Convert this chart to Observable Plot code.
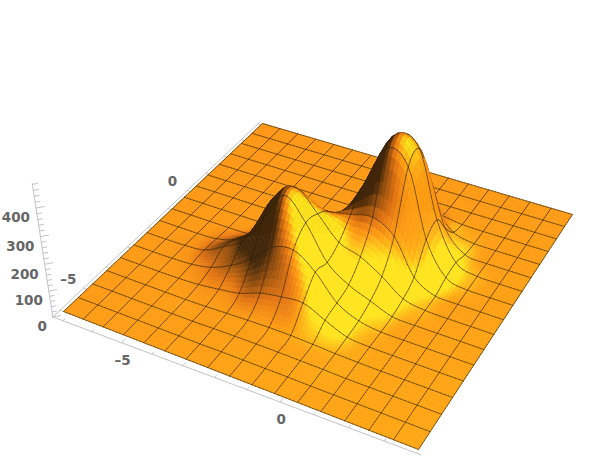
<!DOCTYPE html>
<html><head><meta charset="utf-8">
<style>html,body{margin:0;padding:0;background:#fff}</style>
<script src="https://cdn.jsdelivr.net/npm/d3@7"></script>
<script src="https://cdn.jsdelivr.net/npm/@observablehq/plot@0.6"></script>
</head><body><div id="chart"></div>
<script>
// surface height at each mesh node (row = y line, column = x line)
const heights = [
[0,0,0,0,0,0,0,0,0,0,0,0,0,0,0,0,0],
[0,0,0,0,0,0,0,1,1,1,1,0,0,0,0,0,0],
[0,0,0,0,0,0,2,3,4,4,3,2,0,0,0,0,0],
[0,0,0,0,0,2,5,8,10,10,7,3,1,0,0,0,0],
[0,0,0,1,5,15,28,57,72,78,42,8,1,0,0,0,0],
[0,0,1,5,20,55,105,178,195,140,53,14,1,0,0,0,0],
[0,0,2,10,50,100,205,320,245,125,68,35,4,0,0,0,0],
[0,0,0,5,30,95,240,300,230,150,122,75,18,2,0,0,0],
[0,0,0,0,3,30,90,180,190,205,220,175,48,3,0,0,0],
[0,0,0,0,0,5,15,40,100,260,420,380,140,22,1,0,0],
[0,0,0,0,0,0,0,8,30,180,415,400,165,28,2,0,0],
[0,0,0,0,0,0,0,0,8,60,250,270,85,8,0,0,0],
[0,0,0,0,0,0,0,0,0,15,70,85,20,1,0,0,0],
[0,0,0,0,0,0,0,0,0,0,10,12,2,0,0,0,0],
[0,0,0,0,0,0,0,0,0,0,0,0,0,0,0,0,0],
[0,0,0,0,0,0,0,0,0,0,0,0,0,0,0,0,0],
[0,0,0,0,0,0,0,0,0,0,0,0,0,0,0,0,0]
];
const xTicks = [-7,-6,-5,-4,-3,-2,-1,0,1,2,3];
const yTicks = [-6,-5,-4,-3,-2,-1,0,1,2,3,4];
const zTicks = [0,20,40,60,80,100,120,140,160,180,200,220,240,260,280,300,320,340,360,380,400,420,440,460,480];
const xLabels = [[-5,"\u20135"],[0,"0"]];
const yLabels = [[-5,"\u20135"],[0,"0"]];
const zLabels = [0,100,200,300,400];
const xRange = [-7.23,3.88], yRange = [-6,4.09], zTop = 483;

// camera: 3x3 ground homography + vertical vanishing point
const cam = {a:304.6,b:252.7,c:63,d:83.85,e:-162.8,f:311,g:-0.1206,h:0.2051,vx:300,vy:1924,k:1.58e-4};
function project(u,v,z){
  const l=z*cam.k, w=cam.g*u+cam.h*v+1-l;
  return [(cam.a*u+cam.b*v+cam.c-l*cam.vx)/w,(cam.d*u+cam.e*v+cam.f-l*cam.vy)/w];
}
const depth=(u,v)=>cam.g*u+cam.h*v+1;

const N=16, S=6, M=N*S;
const cr=(p0,p1,p2,p3,t)=>0.5*((2*p1)+(-p0+p2)*t+(2*p0-5*p1+4*p2-p3)*t*t+(-p0+3*p1-3*p2+p3)*t*t*t);
const H=(i,j)=>heights[Math.max(0,Math.min(N,j))][Math.max(0,Math.min(N,i))];
function height(x,y){
  const i=Math.min(N-1,Math.floor(x)),j=Math.min(N-1,Math.floor(y)),s=x-i,t=y-j;
  const r=[];
  for(let q=-1;q<=2;q++) r.push(cr(H(i-1,j+q),H(i,j+q),H(i+1,j+q),H(i+2,j+q),s));
  return Math.max(0,cr(r[0],r[1],r[2],r[3],t));
}
const light={x:0.7,y:-0.15,z:0.83,slope:130,back:0.2};
const yellow=[255,228,30], ember=[228,118,20], brown=[66,38,10];
// lighting term on the fine grid, softened so facets do not show
let field=new Float64Array(M*M);
for(let a=0;a<M;a++)for(let b=0;b<M;b++){
  const x=(a+.5)/S,y=(b+.5)/S,e=0.1;
  const gx=(height(x+e,y)-height(x-e,y))/(2*e)/light.slope, gy=(height(x,y+e)-height(x,y-e))/(2*e)/light.slope;
  const n=Math.sqrt(1+gx*gx+gy*gy);
  const t=(-gx*light.x-gy*light.y+light.z-light.back*Math.max(0,-gy))/n-light.z;
  // steep faces stay orange in the reference: the highlight belongs to the gentle slopes
  field[a+b*M]=t>0?t*Math.max(0,Math.min(1,(1.7-n)/0.4)):t;
}
for(let pass=0;pass<3;pass++){
  const out=new Float64Array(M*M);
  for(let a=0;a<M;a++)for(let b=0;b<M;b++){
    let s=0,n=0;
    for(let p=-1;p<=1;p++)for(let q=-1;q<=1;q++){
      const A=a+p,B=b+q; if(A<0||B<0||A>=M||B>=M)continue;
      s+=field[A+B*M];n++;
    }
    out[a+b*M]=s/n;
  }
  field=out;
}
function shade(a,b){
  const u=(a+.5)/M,v=(b+.5)/M,t=field[a+b*M];
  const flat=[255,155+12*u*(1-v)-5*v*(1-u),20];
  const m=(A,B,q)=>A.map((c,k)=>Math.round(c+(B[k]-c)*q));
  let c;
  if(t>=0) c=m(flat,yellow,Math.min(1,t/0.12));
  else { const q=-t/0.4; c=q<0.3?m(flat,ember,q/0.3):m(ember,brown,Math.min(1,(q-0.3)/0.7)); }
  return `rgb(${c[0]},${c[1]},${c[2]})`;
}
// painter-ordered pieces of the surface
const pieces=[];
for(let a=0;a<M;a++)for(let b=0;b<M;b++){
  const x0=a/S,x1=(a+1)/S,y0=b/S,y1=(b+1)/S;
  const corners=[[x0,y0],[x1,y0],[x1,y1],[x0,y1],[x0,y0]];
  const col=shade(a,b);
  pieces.push({d:depth((x0+x1)/2/N,(y0+y1)/2/N),pts:corners,fill:col,stroke:col,sw:0.6,so:1});
}
for(let m=0;m<=N;m++)for(let a=0;a<M;a++){
  const s0=a/S,s1=(a+1)/S;
  pieces.push({d:depth(m/N,(s0+s1)/2/N)-0.005,pts:[[m,s0],[m,s1]],fill:"none",stroke:"#2a2008",sw:0.7,so:0.8});
  pieces.push({d:depth((s0+s1)/2/N,m/N)-0.005,pts:[[s0,m],[s1,m]],fill:"none",stroke:"#2a2008",sw:0.7,so:0.8});
}
pieces.sort((p,q)=>q.d-p.d);
const rows=[];
pieces.forEach((p,id)=>p.pts.forEach(([x,y])=>{
  const [px,py]=project(x/N,y/N,height(x,y));
  rows.push({px,py,id,fill:p.fill,stroke:p.stroke,sw:p.sw,so:p.so});
}));

const U=x=>(x-xRange[0])/(xRange[1]-xRange[0]);
const V=y=>(y-yRange[0])/(yRange[1]-yRange[0]);
const u0=-0.011,v0=-0.03,u1=1.012,v1=1.0,vEnd=-0.012;
const axV=u=>v0+(vEnd-v0)*(u-u0)/(u1-u0);
const P=(u,v,z=0)=>{const [px,py]=project(u,v,z);return {px,py};};
const axes=[
  {id:"x",pts:[P(u0,v0),P(u1,vEnd)]},
  {id:"y",pts:[P(u0,v0),P(u0,v1)]},
  {id:"z",pts:[P(u0,v0),P(u0,v0,zTop)]}
];
xTicks.forEach((t,n)=>axes.push({id:"tx"+n,pts:[P(U(t),axV(U(t))),P(U(t),axV(U(t))+(t%5===0?0.016:0.009))]}));
yTicks.forEach((t,n)=>axes.push({id:"ty"+n,pts:[P(u0,V(t)),P(u0+(t%5===0?0.016:0.009),V(t))]}));
zTicks.forEach((t,n)=>axes.push({id:"tz"+n,pts:[P(u0,v0,t),P(u0+(t%100===0?0.014:0.008),v0+(t%100===0?0.014:0.008),t)]}));
const axisRows=axes.flatMap(a=>a.pts.map(p=>({...p,id:a.id})));

const labels=[
  ...xLabels.map(([t,s])=>({...P(U(t),axV(U(t))),s,dx:1,dy:18,anchor:"middle"})),
  ...yLabels.map(([t,s])=>({...P(u0,V(t)),s,dx:-15,dy:-9,anchor:"middle"})),
  ...zLabels.map(t=>({...P(u0,v0,t),s:String(t),dx:-6,dy:10,anchor:"end"}))
];

const textStyle={fontFamily:"'DejaVu Sans'",fontWeight:"bold",fontSize:13.5,fill:"#666"};
const chart=Plot.plot({
  width:600,height:462,margin:0,
  style:{background:"#fff"},
  x:{domain:[0,600],range:[0,600],axis:null},
  y:{domain:[0,462],range:[0,462],axis:null},
  color:{type:"identity"},
  marks:[
    Plot.line(axisRows,{x:"px",y:"py",z:"id",stroke:"#c4c4c4",strokeWidth:1}),
    Plot.line(rows,{x:"px",y:"py",z:"id",fill:"fill",stroke:"stroke",strokeWidth:"sw",strokeOpacity:"so"}),
    ...labels.map(l=>Plot.text([l],{x:"px",y:"py",text:"s",dx:l.dx,dy:l.dy,textAnchor:l.anchor,...textStyle}))
  ]
});
document.getElementById("chart").appendChild(chart);
</script></body></html>
